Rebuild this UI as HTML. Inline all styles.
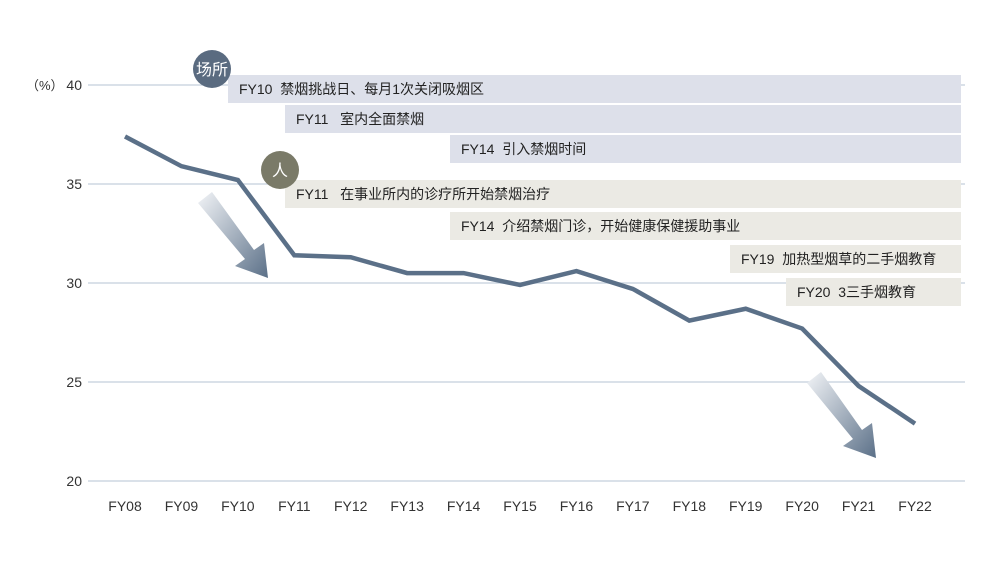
<!DOCTYPE html>
<html><head><meta charset="utf-8"><style>
body{margin:0;background:#fff;font-family:"Liberation Sans","Noto Sans CJK SC",sans-serif;}
svg text{font-family:"Liberation Sans","Noto Sans CJK SC",sans-serif;white-space:pre;}
</style></head><body>
<svg id="c" width="995" height="560">
<defs>
<linearGradient id="ga" x1="0" y1="0" x2="1" y2="1"><stop offset="0" stop-color="#f2f4f7"/><stop offset="1" stop-color="#5b7088"/></linearGradient>
</defs>
<g id="grid"></g>
<g id="boxes"></g>
<polygon points="198,203 212,192 254,250 264,243 268,278 235,266 245,259" fill="url(#ga)"/>
<polygon points="807,383 821,372 862,430 872,423 876,458 843,446 853,439" fill="url(#ga)"/>
<g id="plot"></g>
<circle cx="212" cy="69" r="19" fill="#5a6b80"/>
<text x="212" y="75" text-anchor="middle" font-size="16" fill="#fff">场所</text>
<circle cx="280" cy="170" r="19" fill="#7a7a68"/>
<text x="280" y="176" text-anchor="middle" font-size="16" fill="#fff">人</text>
</svg>
<script>
const categories=["FY08","FY09","FY10","FY11","FY12","FY13","FY14","FY15","FY16","FY17","FY18","FY19","FY20","FY21","FY22"];
const values=[37.4,35.9,35.2,31.4,31.3,30.5,30.5,29.9,30.6,29.7,28.1,28.7,27.7,24.8,22.9];
const yTicks=[20,25,30,35,40];
const NS="http://www.w3.org/2000/svg";
const x=i=>125+i*56.43;
const y=v=>481-(v-20)*19.8;
function mk(t,a,p){const e=document.createElementNS(NS,t);for(const k in a)e.setAttribute(k,a[k]);p.appendChild(e);return e;}
const grid=document.getElementById('grid'),plot=document.getElementById('plot'),boxes=document.getElementById('boxes');
yTicks.forEach(v=>{
 const l=mk('line',{x1:88,x2:965,y1:y(v),y2:y(v),stroke:'#cdd7e2','stroke-width':1.5},grid);
 
 
 const t=mk('text',{x:82,y:y(v)+5,'text-anchor':'end','font-size':14,fill:'#333'},grid);
 t.textContent=v;
 
 
});
const u=mk('text',{x:26,y:90,'font-size':13,fill:'#333'},grid);u.textContent='（%）';


categories.forEach((c,i)=>{
 const t=mk('text',{x:x(i),y:511,'text-anchor':'middle','font-size':14,fill:'#333'},grid);
 t.textContent=c;
 
 
});
const bx=[[228,75,'#dde0ea','FY10  禁烟挑战日、每月1次关闭吸烟区'],[285,105,'#dde0ea','FY11   室内全面禁烟'],[450,135,'#dde0ea','FY14  引入禁烟时间'],
[285,180,'#ebeae4','FY11   在事业所内的诊疗所开始禁烟治疗'],[450,212,'#ebeae4','FY14  介绍禁烟门诊，开始健康保健援助事业'],[730,245,'#ebeae4','FY19  加热型烟草的二手烟教育'],[786,278,'#ebeae4','FY20  3三手烟教育']];
bx.forEach((b,i)=>{
 const r=mk('rect',{x:b[0],y:b[1],width:961-b[0],height:28,fill:b[2]},boxes);
 
 
 const t=mk('text',{x:b[0]+11,y:b[1]+19,'font-size':14,fill:'#222'},boxes);
 t.textContent=b[3];
 
 
});
const pl=mk('polyline',{points:values.map((v,i)=>x(i)+','+y(v)).join(' '),fill:'none',stroke:'#5b7088','stroke-width':4.5,'stroke-linejoin':'miter'},plot);


</script>
</body></html>
